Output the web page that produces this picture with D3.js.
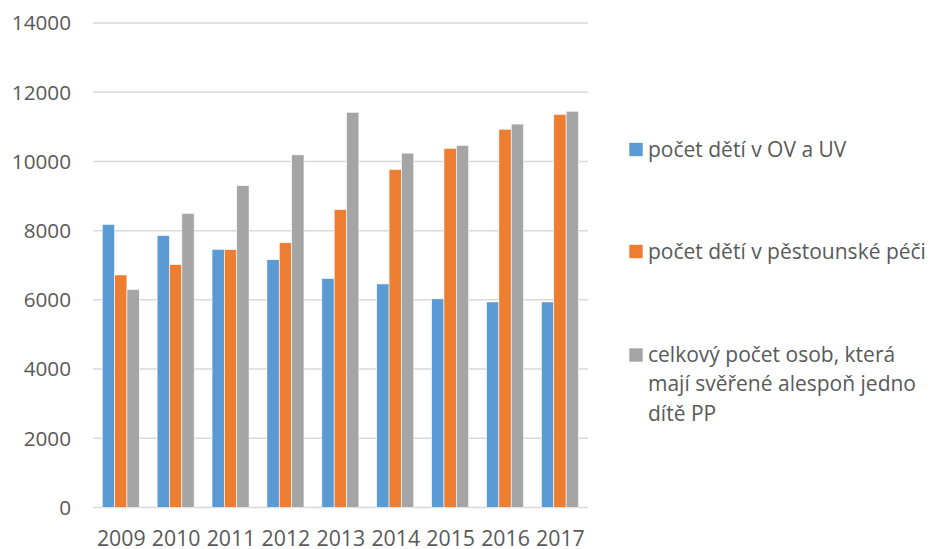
<!DOCTYPE html>
<html><head><meta charset="utf-8">
<script src="https://cdn.jsdelivr.net/npm/d3@7"></script>
<style>body{margin:0;background:#fff}svg{display:block}text{font-family:"Open Sans",sans-serif;fill:#595959}</style>
</head><body><svg id="c" width="930" height="549"></svg>
<script>
const years = ["2009","2010","2011","2012","2013","2014","2015","2016","2017"];
const seriesNames = ["počet dětí v OV a UV","počet dětí v pěstounské péči","celkový počet osob, která mají svěřené alespoň jedno dítě PP"];
const ovUv = [8180,7860,7460,7160,6620,6460,6030,5940,5940];
const pestounska = [6720,7020,7450,7650,8610,9770,10380,10930,11360];
const celkem = [6300,8500,9300,10190,11420,10240,10460,11080,11450];
const yTicks = [0,2000,4000,6000,8000,10000,12000,14000];
const colors = ["#5B9BD5","#ED7D31","#A5A5A5"];
const legendLines = [["počet dětí v OV a UV"],["počet dětí v pěstounské péči"],["celkový počet osob, která","mají svěřené alespoň jedno","dítě PP"]];

const svg = d3.select("#c");
const x = d3.scaleBand().domain(years).range([93.3,587.4]).paddingInner(0).paddingOuter(0);
const y = d3.scaleLinear().domain([0,14000]).range([507.5,23]);
const data = [ovUv,pestounska,celkem];
const groupW = x.bandwidth()*0.675;
const xs = d3.scaleBand().domain([0,1,2]).range([0,groupW]);

svg.append("g").selectAll("line").data(yTicks).join("line")
  .attr("x1",93).attr("x2",588).attr("y1",d=>y(d)).attr("y2",d=>y(d))
  .attr("stroke","#D9D9D9").attr("stroke-width",1.5);

svg.append("g").selectAll("text").data(yTicks).join("text")
  .attr("x",71).attr("y",d=>y(d)+7.3).attr("text-anchor","end")
  .attr("font-size",20.7).text(d=>d);

data.forEach((vals,si)=>{
  svg.append("g").selectAll("rect").data(vals).join("rect")
    .attr("x",(d,i)=>x(years[i])+(x.bandwidth()-groupW)/2+xs(si))
    .attr("width",xs.bandwidth())
    .attr("y",d=>y(d)).attr("height",d=>y(0)-y(d))
    .attr("fill",colors[si]).attr("stroke","#fff").attr("stroke-width",0.6);
});

svg.append("g").selectAll("text").data(years).join("text")
  .attr("x",d=>x(d)+x.bandwidth()/2+0.5).attr("y",545.5).attr("text-anchor","middle")
  .attr("font-size",21.3).text(d=>d);

const legY = [156.5,258.5,362];
legendLines.forEach((lines,i)=>{
  svg.append("rect").attr("x",629.3).attr("y",legY[i]-13.7).attr("width",13.4).attr("height",13.4).attr("fill",colors[i]);
  lines.forEach((t,j)=>{
    svg.append("text").attr("x",648).attr("y",legY[i]+j*29.3).attr("font-size",21).text(t);
  });
});
</script></body></html>
